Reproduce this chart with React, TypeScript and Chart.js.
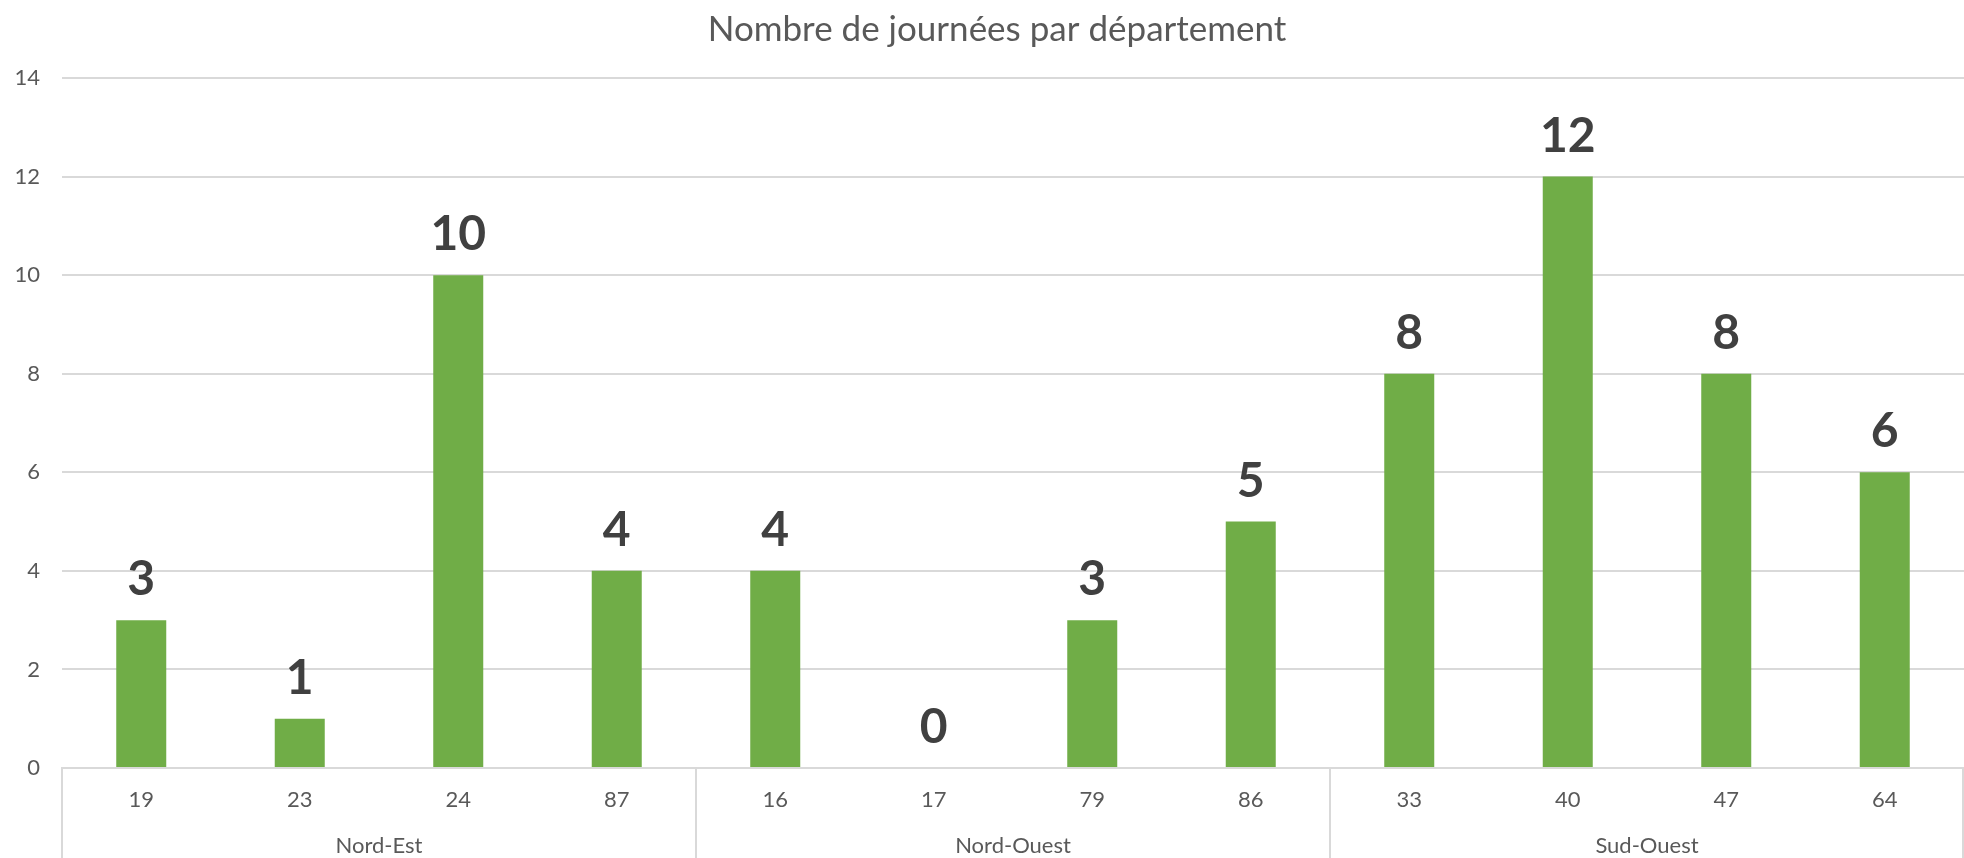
import React, { useEffect, useRef } from "react";
import { Chart, registerables } from "chart.js";

Chart.register(...registerables);

const TITLE = "Nombre de journées par département";
const departments = ["19", "23", "24", "87", "16", "17", "79", "86", "33", "40", "47", "64"];
const regions = ["Nord-Est", "Nord-Ouest", "Sud-Ouest"];
const regionSizes = [4, 4, 4];
const journees = [3, 1, 10, 4, 4, 0, 3, 5, 8, 12, 8, 6];
const yTicks = [0, 2, 4, 6, 8, 10, 12, 14];

const FONT = "Lato";
const TEXT = "#595959";
const GRID = "#D9D9D9";
const BAR = "#70AD47";

const titlePlugin = {
  id: "customTitle",
  afterDraw(chart: any) {
    const ctx = chart.ctx;
    ctx.save();
    ctx.font = `35px ${FONT}`;
    ctx.fillStyle = TEXT;
    ctx.textAlign = "center";
    ctx.textBaseline = "alphabetic";
    ctx.fillText(TITLE, chart.width / 2 + 15, 41);
    ctx.restore();
  },
};

const valueLabels = {
  id: "valueLabels",
  afterDatasetsDraw(chart: any) {
    const ctx = chart.ctx;
    const meta = chart.getDatasetMeta(0);
    ctx.save();
    ctx.font = `bold 48px ${FONT}`;
    ctx.fillStyle = "#404040";
    ctx.textAlign = "center";
    ctx.textBaseline = "alphabetic";
    meta.data.forEach((bar: any, i: number) => {
      ctx.fillText(String(journees[i]), bar.x, bar.y - 25);
    });
    ctx.restore();
  },
};

const groupSeparators = {
  id: "groupSeparators",
  afterDraw(chart: any) {
    const x = chart.scales.x;
    const ctx = chart.ctx;
    const bounds: number[] = [0];
    regionSizes.forEach((s) => bounds.push(bounds[bounds.length - 1] + s));
    ctx.save();
    ctx.strokeStyle = GRID;
    ctx.lineWidth = 2;
    bounds.forEach((b) => {
      let px = x.getPixelForValue(b - 0.5);
      px = Math.min(Math.max(px, 1), chart.width - 1);
      ctx.beginPath();
      ctx.moveTo(px, chart.chartArea.bottom);
      ctx.lineTo(px, chart.height);
      ctx.stroke();
    });
    ctx.restore();
  },
};

export default function App() {
  const ref = useRef<HTMLCanvasElement>(null);
  useEffect(() => {
    document.body.style.margin = "0";
    const chart = new Chart(ref.current!, {
      type: "bar",
      data: {
        labels: departments,
        datasets: [
          {
            data: journees,
            backgroundColor: BAR,
            borderWidth: 0,
            categoryPercentage: 1,
            barPercentage: 0.3155,
          },
        ],
      },
      options: {
        animation: false,
        responsive: false,
        devicePixelRatio: 1,
        layout: { padding: { top: 78, left: 0, right: 0, bottom: 0 } },
        plugins: {
          legend: { display: false },
          title: { display: false },
          tooltip: { enabled: false },
        },
        scales: {
          y: {
            min: 0,
            max: 14,
            afterFit: (s: any) => {
              s.width = 62;
            },
            afterBuildTicks: (s: any) => {
              s.ticks = yTicks.map((v) => ({ value: v }));
            },
            grid: { color: GRID, lineWidth: 2, drawTicks: false },
            border: { display: false },
            ticks: {
              padding: 22,
              color: TEXT,
              font: { family: FONT, size: 22 },
            },
          },
          x: {
            position: "bottom",
            afterFit: (s: any) => {
              s.height = 50;
            },
            grid: { display: false, drawTicks: false },
            border: { display: true, color: GRID, width: 2 },
            ticks: {
              padding: 19,
              color: TEXT,
              maxRotation: 0,
              autoSkip: false,
              font: { family: FONT, size: 22 },
            },
          },
          x2: {
            type: "category",
            position: "bottom",
            labels: regions,
            offset: true,
            afterFit: (s: any) => {
              s.height = 40;
            },
            grid: { display: false, drawTicks: false },
            border: { display: false },
            ticks: {
              padding: 15,
              color: TEXT,
              maxRotation: 0,
              autoSkip: false,
              font: { family: FONT, size: 22 },
            },
          },
        },
      },
      plugins: [titlePlugin, valueLabels, groupSeparators],
    });
    return () => chart.destroy();
  }, []);
  return (
    <div style={{ position: "fixed", left: 0, top: 0, width: 1964, height: 858, overflow: "hidden", background: "#fff" }}>
      <canvas ref={ref} width={1964} height={858} style={{ width: 1964, height: 858, display: "block" }} />
    </div>
  );
}
